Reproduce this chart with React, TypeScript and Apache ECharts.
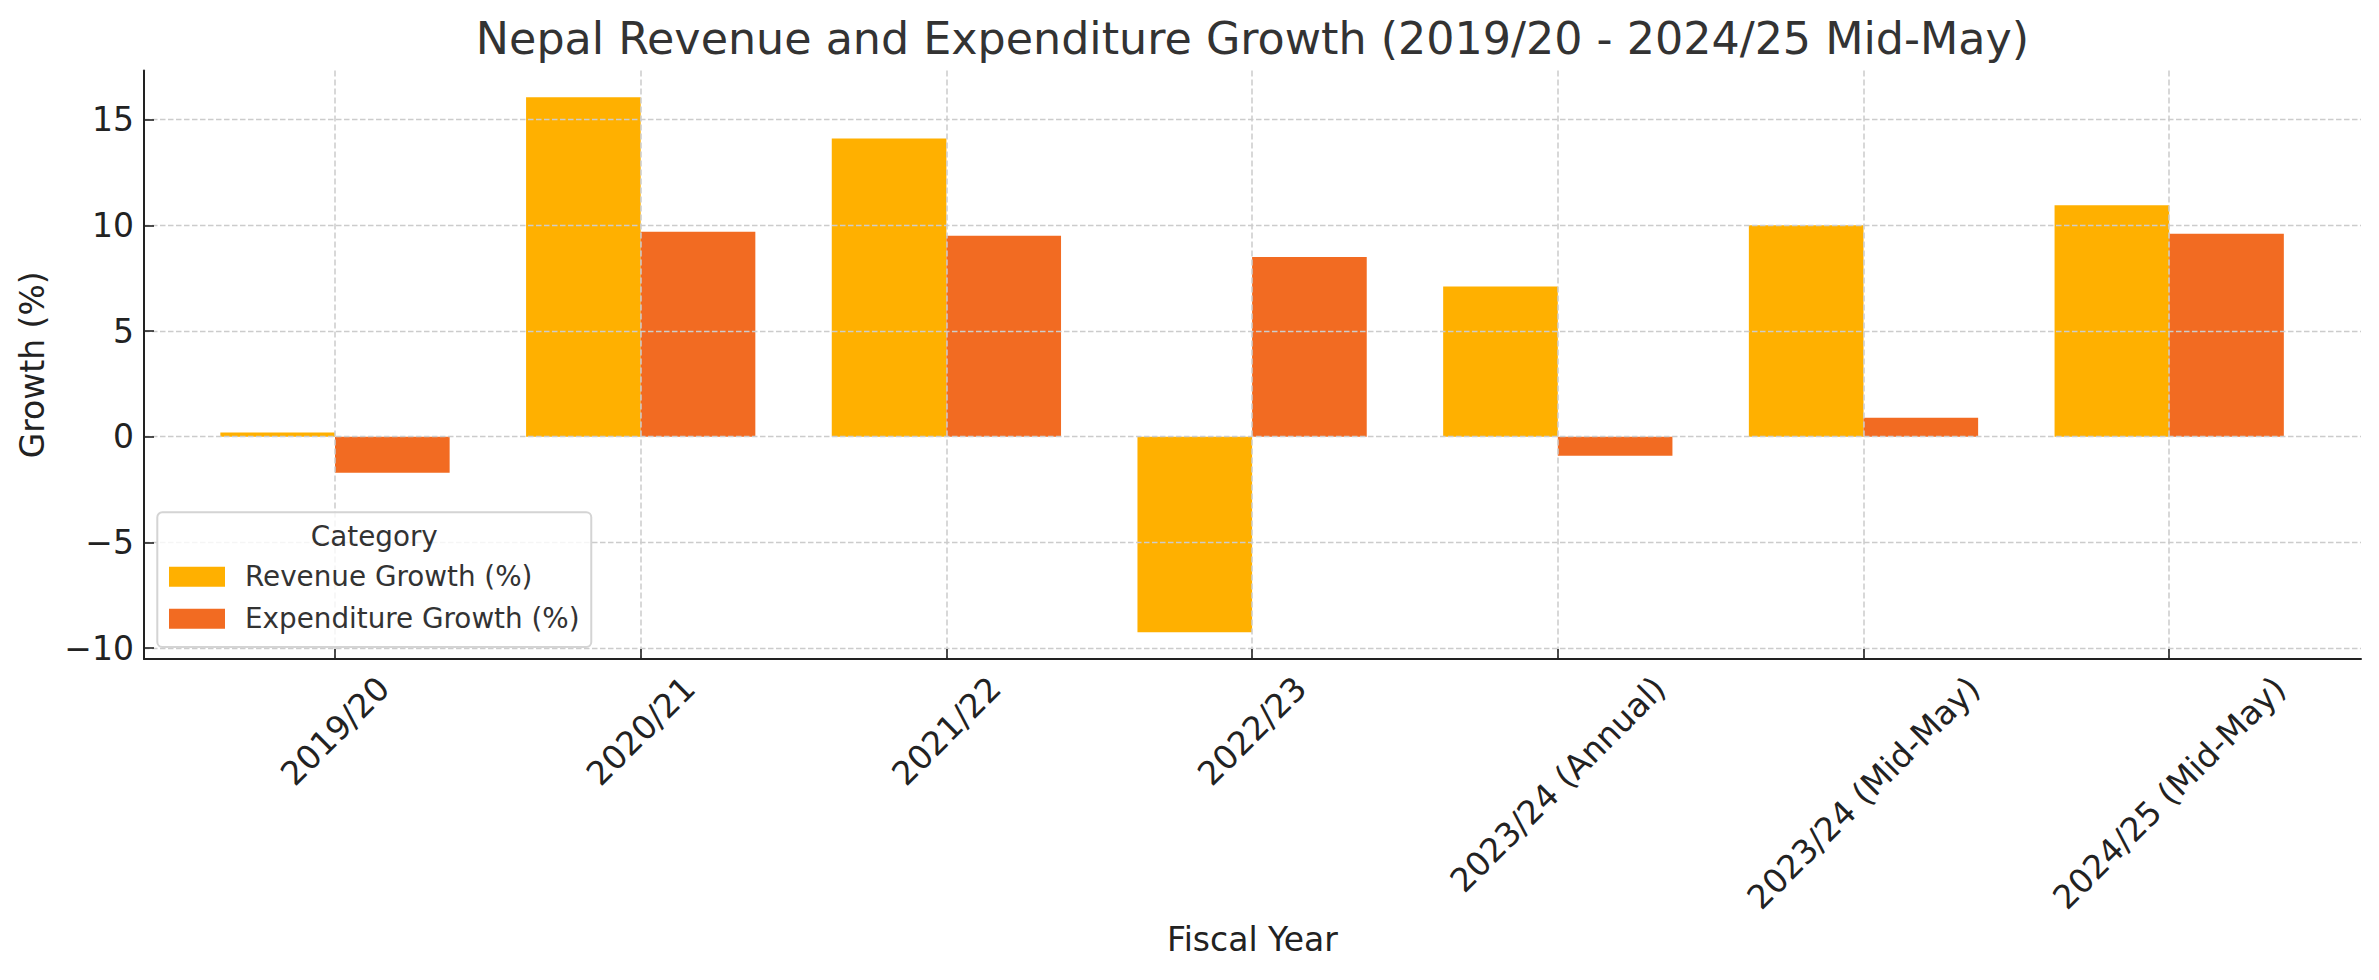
import { useEffect, useRef } from 'react';
import * as echarts from 'echarts';

// 财年类别
const fiscalYears = [
  '2019/20',
  '2020/21',
  '2021/22',
  '2022/23',
  '2023/24 (Annual)',
  '2023/24 (Mid-May)',
  '2024/25 (Mid-May)'
];

// 增长率 (%)
const revenueGrowth = [0.2, 16.05, 14.1, -9.25, 7.1, 10.0, 10.95];
const expenditureGrowth = [-1.7, 9.7, 9.5, 8.5, -0.9, 0.9, 9.6];

// 纵轴刻度
const yTickMin = -10;
const yTickMax = 15;
const yTickStep = 5;

const seriesNames = ['Revenue Growth (%)', 'Expenditure Growth (%)'];
const seriesColors = ['#FFB000', '#F26B22'];

const FONT = 'DejaVu Sans';
const INK = '#222222';
const GRID_LINE = '#cccccc';

// 绘图区 (像素)
const PLOT = { left: 144, right: 2361, top: 70.6, bottom: 659.1 };
const FIRST_CENTER = 335;
const CATEGORY_STEP = 305.7;

const App = () => {
  const chartRef = useRef<HTMLDivElement>(null);

  useEffect(() => {
    if (!chartRef.current) return;
    const chart = echarts.init(chartRef.current, null, { renderer: 'svg' });

    // 数据范围 + 5% 边距
    const all = [...revenueGrowth, ...expenditureGrowth];
    const dMax = Math.max(...all);
    const dMin = Math.min(...all);
    const margin = (dMax - dMin) * 0.05;
    const yMax = dMax + margin;
    const yMin = dMin - margin;
    const k = (PLOT.bottom - PLOT.top) / (yMax - yMin);
    const yToPx = (v: number) => PLOT.top + (yMax - v) * k;

    // 旋转标签居中
    const tickFont = 33;
    const canvas = document.createElement('canvas');
    const ctx = canvas.getContext('2d');
    if (ctx) ctx.font = `${tickFont}px "${FONT}"`;
    const rich: Record<string, any> = {
      t: { fontSize: tickFont, lineHeight: tickFont, fontFamily: FONT, color: INK }
    };
    fiscalYears.forEach((label, i) => {
      const w = ctx ? ctx.measureText(label).width : label.length * tickFont * 0.6;
      const p = 0.5 * (w + 24);
      rich['v' + i] = { height: p, lineHeight: p, fontSize: 4 };
      rich['h' + i] = { width: p, fontSize: 4 };
    });

    const plotWidth = PLOT.right - PLOT.left;
    const plotHeight = PLOT.bottom - PLOT.top;

    const option: any = {
      animation: false,
      backgroundColor: '#ffffff',
      title: [
        {
          text: 'Nepal Revenue and Expenditure Growth (2019/20 - 2024/25 Mid-May)',
          left: (PLOT.left + PLOT.right) / 2,
          textAlign: 'center',
          top: 16,
          padding: 0,
          textStyle: {
            fontFamily: FONT,
            fontSize: 44.4,
            lineHeight: 44,
            fontWeight: 'normal',
            color: '#333333'
          }
        },
        {
          text: 'Category',
          left: 374.3,
          textAlign: 'center',
          top: 522,
          padding: 0,
          z: 10,
          textStyle: {
            fontFamily: FONT,
            fontSize: 27.8,
            lineHeight: 28,
            fontWeight: 'normal',
            color: '#333333'
          }
        }
      ],
      legend: {
        orient: 'vertical',
        left: 157.3,
        top: 512.3,
        padding: [50.5, 11.7, 14.3, 11.7],
        itemWidth: 56,
        itemHeight: 20,
        itemGap: 14,
        icon: 'rect',
        selectedMode: false,
        backgroundColor: 'rgba(255,255,255,0.8)',
        borderColor: '#d4d4d4',
        borderWidth: 2,
        borderRadius: 5,
        z: 8,
        textStyle: {
          fontFamily: FONT,
          fontSize: 27.8,
          lineHeight: 28,
          color: '#333333',
          padding: [0, 0, 0, 15]
        },
        data: seriesNames
      },
      grid: [
        {
          left: PLOT.left,
          top: PLOT.top,
          width: plotWidth,
          height: plotHeight,
          outerBoundsMode: 'none'
        },
        {
          left: PLOT.left,
          top: yToPx(yTickMax),
          width: plotWidth,
          height: (yTickMax - yTickMin) * k,
          outerBoundsMode: 'none'
        },
        {
          left: FIRST_CENTER,
          top: PLOT.top,
          width: CATEGORY_STEP * (fiscalYears.length - 1),
          height: plotHeight,
          outerBoundsMode: 'none'
        }
      ],
      xAxis: [
        {
          gridIndex: 0,
          type: 'value',
          min: 0,
          max: 1,
          z: 3,
          axisLine: { show: true, onZero: false, lineStyle: { color: INK, width: 2 } },
          axisTick: { show: false },
          axisLabel: { show: false },
          splitLine: { show: false },
          name: 'Fiscal Year',
          nameLocation: 'middle',
          nameGap: 264,
          nameTextStyle: { fontFamily: FONT, fontSize: 33, color: INK }
        },
        { gridIndex: 1, type: 'value', min: 0, max: 1, show: false },
        {
          gridIndex: 2,
          type: 'category',
          data: fiscalYears,
          boundaryGap: false,
          position: 'bottom',
          z: 3,
          axisLine: { show: false, onZero: false },
          axisTick: {
            show: true,
            inside: true,
            length: 10,
            interval: 0,
            lineStyle: { color: INK, width: 1.6 }
          },
          axisLabel: {
            interval: 0,
            rotate: 45,
            align: 'center',
            verticalAlign: 'middle',
            margin: 15,
            formatter: (value: string, index: number) =>
              `{v${index}| }\n{t|${value}}{h${index}| }`,
            rich
          },
          splitLine: {
            show: true,
            interval: 0,
            lineStyle: { color: GRID_LINE, width: 1.5, type: [6, 3] }
          }
        }
      ],
      yAxis: [
        {
          gridIndex: 0,
          type: 'value',
          min: 0,
          max: 1,
          z: 3,
          axisLine: { show: true, onZero: false, lineStyle: { color: INK, width: 2 } },
          axisTick: { show: false },
          axisLabel: { show: false },
          splitLine: { show: false },
          name: 'Growth (%)',
          nameLocation: 'middle',
          nameGap: 95,
          nameTextStyle: { fontFamily: FONT, fontSize: 33, color: INK }
        },
        {
          gridIndex: 1,
          type: 'value',
          min: yTickMin,
          max: yTickMax,
          interval: yTickStep,
          z: 3,
          axisLine: { show: false, onZero: false },
          axisTick: {
            show: true,
            inside: true,
            length: 10,
            lineStyle: { color: INK, width: 1.6 }
          },
          axisLabel: {
            fontFamily: FONT,
            fontSize: tickFont,
            color: INK,
            margin: 10,
            formatter: (v: number) => (v < 0 ? '\u2212' + Math.abs(v) : String(v))
          },
          splitLine: {
            show: true,
            lineStyle: { color: GRID_LINE, width: 1.4, type: [5.5, 2.5] }
          }
        },
        { gridIndex: 2, type: 'value', min: yMin, max: yMax, show: false }
      ],
      series: [
        {
          name: seriesNames[0],
          type: 'bar',
          xAxisIndex: 2,
          yAxisIndex: 2,
          data: revenueGrowth,
          barWidth: '37.5%',
          barGap: '0%',
          clip: false,
          z: 2,
          itemStyle: { color: seriesColors[0] }
        },
        {
          name: seriesNames[1],
          type: 'bar',
          xAxisIndex: 2,
          yAxisIndex: 2,
          data: expenditureGrowth,
          barWidth: '37.5%',
          barGap: '0%',
          clip: false,
          z: 2,
          itemStyle: { color: seriesColors[1] }
        }
      ]
    };

    chart.setOption(option);

    return () => {
      chart.dispose();
    };
  }, []);

  return (
    <div
      ref={chartRef}
      style={{ position: 'fixed', left: 0, top: 0, width: '2379px', height: '980px' }}
    />
  );
};

export default App;
